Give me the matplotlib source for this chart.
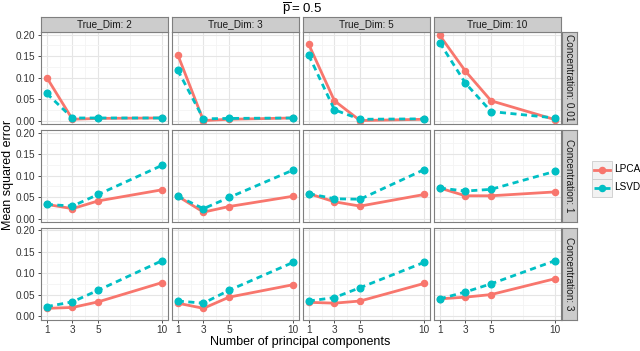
import numpy as np
import matplotlib
matplotlib.use("Agg")
import matplotlib.pyplot as plt
from matplotlib.patches import Rectangle
from matplotlib.lines import Line2D

plt.rcParams["font.family"] = ["Liberation Sans", "DejaVu Sans"]
plt.rcParams["mathtext.fontset"] = "custom"
plt.rcParams["mathtext.rm"] = "Liberation Sans"

# data
components = [1, 3, 5, 10]
true_dims = [2, 3, 5, 10]
concentrations = ["0.01", "1", "3"]

# lpca[row][col] -> values at components
lpca = [
    [[0.100, 0.003, 0.005, 0.006],
     [0.153, 0.000, 0.003, 0.006],
     [0.177, 0.046, 0.000, 0.003],
     [0.198, 0.115, 0.046, 0.002]],
    [[0.033, 0.023, 0.041, 0.067],
     [0.052, 0.015, 0.028, 0.052],
     [0.058, 0.039, 0.029, 0.056],
     [0.071, 0.053, 0.053, 0.062]],
    [[0.018, 0.020, 0.033, 0.078],
     [0.030, 0.018, 0.044, 0.073],
     [0.032, 0.030, 0.035, 0.076],
     [0.040, 0.044, 0.050, 0.087]],
]
lsvd = [
    [[0.063, 0.006, 0.006, 0.006],
     [0.117, 0.004, 0.005, 0.006],
     [0.152, 0.025, 0.003, 0.004],
     [0.181, 0.087, 0.021, 0.006]],
    [[0.033, 0.029, 0.056, 0.124],
     [0.052, 0.023, 0.049, 0.113],
     [0.058, 0.046, 0.045, 0.114],
     [0.071, 0.064, 0.068, 0.110]],
    [[0.022, 0.033, 0.060, 0.129],
     [0.035, 0.030, 0.060, 0.125],
     [0.035, 0.043, 0.066, 0.125],
     [0.040, 0.056, 0.075, 0.129]],
]

red = "#F8766D"
teal = "#00BFC4"

W, H = 640, 351
fig = plt.figure(figsize=(W / 100, H / 100), dpi=100)

def px(x0, y0, w, h):
    # pixel box (top-left origin) -> figure fraction
    return [x0 / W, 1 - (y0 + h) / H, w / W, h / H]

col_left = [41, 172, 303, 434]
col_w = 127
row_top = [32, 130, 227.5]
row_h = 92
fs_tick = 7.2
dash = (0, (2.2, 1.6))

for r in range(3):
    for c in range(4):
        ax = fig.add_axes(px(col_left[c], row_top[r], col_w, row_h))
        ax.set_facecolor("white")
        ax.set_xlim(0.55, 10.45)
        ax.set_ylim(-0.008, 0.206)
        ax.set_xticks(components)
        ax.set_xticks([2, 4, 7.5], minor=True)
        ax.set_yticks([0, 0.05, 0.10, 0.15, 0.20])
        ax.set_yticks([0.025, 0.075, 0.125, 0.175], minor=True)
        ax.grid(True, which="major", color="#E5E5E5", lw=0.8)
        ax.grid(True, which="minor", color="#F4F4F4", lw=0.6)
        ax.set_axisbelow(True)
        for s in ax.spines.values():
            s.set_color("#7F7F7F")
            s.set_linewidth(0.8)
        ax.tick_params(which="minor", length=0)
        ax.tick_params(which="major", length=2.5, width=0.6, color="#333333",
                       labelsize=fs_tick, pad=1.5, labelcolor="#333333")
        if c == 0:
            ax.set_yticklabels(["0.00", "0.05", "0.10", "0.15", "0.20"])
        else:
            ax.tick_params(axis="y", left=False, labelleft=False)
        if r == 2:
            ax.set_xticklabels([str(v) for v in components])
        else:
            ax.tick_params(axis="x", bottom=False, labelbottom=False)

        ax.plot(components, lpca[r][c], color=red, lw=2.0, marker="o",
                ms=4.4, solid_capstyle="butt")
        ax.plot(components, lsvd[r][c], color=teal, lw=2.0, ls=dash,
                marker="o", ms=4.8)

        if r == 0:
            sax = fig.add_axes(px(col_left[c], 17.3, col_w, 14.4))
            sax.set_facecolor("#CCCCCC")
            sax.set_xticks([]); sax.set_yticks([])
            for s in sax.spines.values():
                s.set_color("#7F7F7F"); s.set_linewidth(0.8)
            sax.text(0.5, 0.5, "True_Dim: %d" % true_dims[c], ha="center",
                     va="center", fontsize=fs_tick, color="#1A1A1A",
                     transform=sax.transAxes)
        if c == 3:
            sax = fig.add_axes(px(562, row_top[r], 14.7, row_h))
            sax.set_facecolor("#CCCCCC")
            sax.set_xticks([]); sax.set_yticks([])
            for s in sax.spines.values():
                s.set_color("#7F7F7F"); s.set_linewidth(0.8)
            sax.text(0.5, 0.5, "Concentration: " + concentrations[r],
                     ha="center", va="center", rotation=-90,
                     fontsize=fs_tick, color="#1A1A1A", transform=sax.transAxes)

fig.text(302 / W, 1 - 12.5 / H, r"$\overline{\mathrm{p}} = 0.5$", ha="center",
         va="baseline", fontsize=9.5)
fig.text(300 / W, 1 - 342 / H, "Number of principal components", ha="center",
         va="center", fontsize=9)
fig.text(8 / W, 1 - 175 / H, "Mean squared error", ha="center", va="center",
         rotation=90, fontsize=9)

# legend
lax = fig.add_axes(px(590, 158, 50, 40))
lax.set_xlim(590, 640)
lax.set_ylim(198, 158)
lax.axis("off")
for name, col, ls, yc in [("LPCA", red, "-", 169.5), ("LSVD", teal, dash, 187.5)]:
    lax.add_patch(Rectangle((592, yc - 9), 20, 18, facecolor="#F2F2F2",
                            edgecolor="#CCCCCC", lw=0.6))
    lax.add_line(Line2D([594, 610], [yc, yc], color=col, lw=2.0, ls=ls))
    lax.plot([602], [yc], marker="o", color=col, ms=4.4)
    lax.text(614, yc, name, va="center", ha="left", fontsize=fs_tick)

fig.savefig("out.png", dpi=100)
